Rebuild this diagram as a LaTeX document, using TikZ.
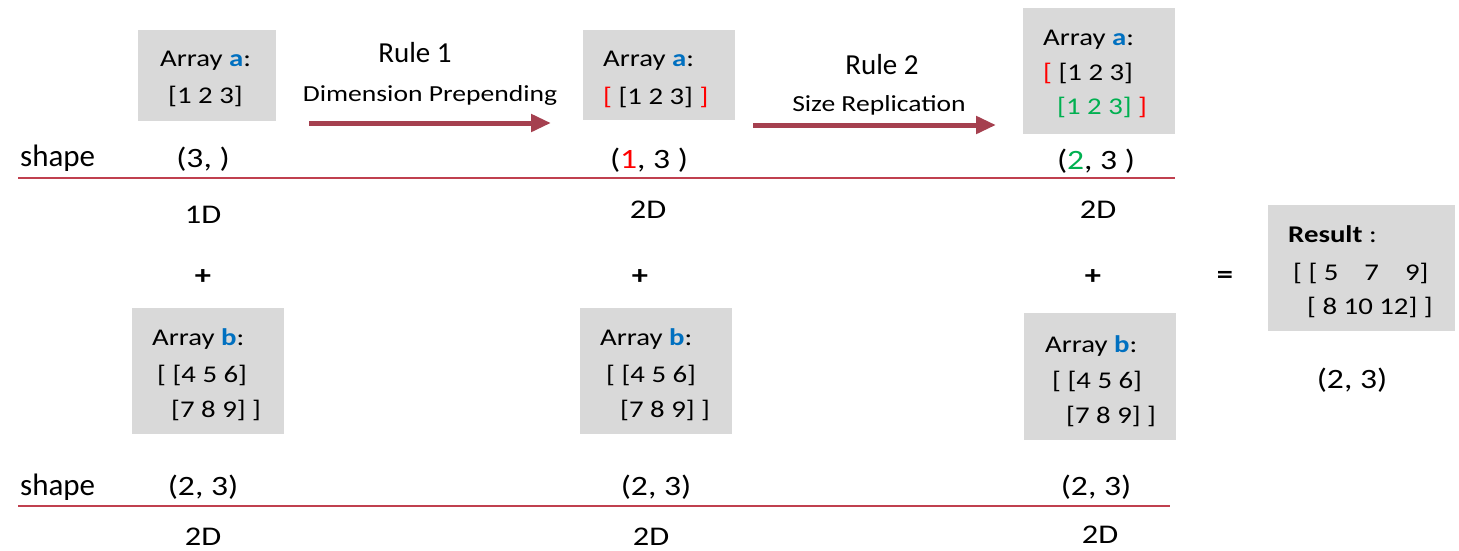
\documentclass[tikz,border=0pt]{standalone}
\usepackage{fontspec}
\setmainfont{Carlito}
\newfontfamily\widefont{Carlito}[FakeStretch=1.2]
\usetikzlibrary{arrows.meta}
\definecolor{boxgray}{HTML}{D9D9D9}
\definecolor{arrowred}{HTML}{A5404F}
\definecolor{linered}{HTML}{C0404F}
\definecolor{keyblue}{HTML}{0070C0}
\definecolor{addred}{HTML}{FF0000}
\definecolor{repgreen}{HTML}{00B050}
\newcommand{\ka}{\textcolor{keyblue}{\textbf{a}}}
\newcommand{\kb}{\textcolor{keyblue}{\textbf{b}}}
\newcommand{\rd}[1]{\textcolor{addred}{#1}}
\newcommand{\gr}[1]{\textcolor{repgreen}{#1}}
\begin{document}
\begin{tikzpicture}[x=1pt,y=-1pt,
  arraybox/.style={fill=boxgray, draw=none, inner sep=0pt, anchor=north west},
  txt/.style={font=\widefont\fontsize{24}{28}\selectfont, inner sep=0pt, anchor=base west},
  ctxt/.style={txt, anchor=base},
  dimtxt/.style={font=\widefont\fontsize{27}{32}\selectfont, inner sep=0pt, anchor=base},
  shptxt/.style={font=\widefont\fontsize{28}{32}\selectfont, inner sep=0pt, anchor=base},
  bigtxt/.style={font=\fontsize{29}{34}\selectfont, inner sep=0pt, anchor=base},
  shapetxt/.style={font=\fontsize{31}{36}\selectfont, inner sep=0pt, anchor=base west},
  optxt/.style={font=\widefont\bfseries\fontsize{27}{32}\selectfont, inner sep=0pt, anchor=center},
  flow/.style={draw=arrowred, line width=5pt, -{Triangle[length=20pt,width=17pt]}},
  sepline/.style={draw=linered, line width=1.3pt}]
\useasboundingbox (0,0) rectangle (1459,550);

% gray array boxes
\node[arraybox, minimum width=138pt, minimum height=91pt] (a1) at (138,30) {};
\node[arraybox, minimum width=152pt, minimum height=90pt] (a2) at (583,30) {};
\node[arraybox, minimum width=152pt, minimum height=126pt] (a3) at (1023,8) {};
\node[arraybox, minimum width=152pt, minimum height=126pt] (b1) at (132,308) {};
\node[arraybox, minimum width=152pt, minimum height=126pt] (b2) at (580,308) {};
\node[arraybox, minimum width=152pt, minimum height=127pt] (b3) at (1024,313) {};
\node[arraybox, minimum width=187pt, minimum height=126pt] (res) at (1268,205) {};

% array a, three stages
\node[txt] (a1t) at (160,66) {Array \ka:};
\node[txt] (a1v) at (168,103) {[1 2 3]};
\node[txt] (a2t) at (603,66) {Array \ka:};
\node[txt] (a2v) at (603,104) {\rd{[} [1 2 3] \rd{]}};
\node[txt] (a3t) at (1043,45) {Array \ka:};
\node[txt] (a3v) at (1043,80) {\rd{[} [1 2 3]};
\node[txt] (a3w) at (1057,114) {\gr{[1 2 3]} \rd{]}};

% array b, three stages
\node[txt] (b1t) at (152,345) {Array \kb:};
\node[txt] (b1v) at (157,382) {[ [4 5 6]};
\node[txt] (b1w) at (171,417) {[7 8 9] ]};
\node[txt] (b2t) at (600,345) {Array \kb:};
\node[txt] (b2v) at (606,382) {[ [4 5 6]};
\node[txt] (b2w) at (620,417) {[7 8 9] ]};
\node[txt] (b3t) at (1045,352) {Array \kb:};
\node[txt] (b3v) at (1052,388) {[ [4 5 6]};
\node[txt] (b3w) at (1066,423) {[7 8 9] ]};

% result
\node[txt] (rt) at (1288,242) {\textbf{Result} :};
\node[txt] (rv) at (1293,280) {[ [ 5\hspace{26pt}7\hspace{26pt}9]};
\node[txt] (rw) at (1307,314) {[ 8 10 12] ]};
\node[shptxt] (rs) at (1352,388) {(2, 3)};

% broadcasting rules
\node[bigtxt] (r1) at (415,62) {Rule 1};
\node[ctxt, font=\widefont\fontsize{23}{28}\selectfont] (r1d) at (430,101) {Dimension Prepending};
\node[bigtxt] (r2) at (882,74) {Rule 2};
\node[ctxt, font=\widefont\fontsize{23}{28}\selectfont] (r2d) at (879,111) {Size Replication};
\coordinate (r1s) at (309,123);
\coordinate (r1e) at (551,123);
\coordinate (r2s) at (753,125);
\coordinate (r2e) at (996,125);
\draw[flow] (r1s) -- (r1e);
\draw[flow] (r2s) -- (r2e);

% shapes of a
\node[shapetxt] (sa) at (20,166) {shape};
\node[shptxt] (sa1) at (203,167) {(3, )};
\node[shptxt] (sa2) at (649,168) {(\rd{1}, 3 )};
\node[shptxt] (sa3) at (1096,169) {(\gr{2}, 3 )};
\coordinate (la1) at (18,178);
\coordinate (la2) at (1175,178);
\draw[sepline] (la1) -- (la2);
\node[dimtxt] (da1) at (203,223) {1D};
\node[dimtxt] (da2) at (648,218) {2D};
\node[dimtxt] (da3) at (1098,218) {2D};

% operators
\node[optxt] (p1) at (203,277) {+};
\node[optxt] (p2) at (640,277) {+};
\node[optxt] (p3) at (1093,277) {+};
\node[optxt] (eq) at (1225,277) {=};

% shapes of b
\node[shapetxt] (sb) at (20,495) {shape};
\node[shptxt] (sb1) at (203,495) {(2, 3)};
\node[shptxt] (sb2) at (656,495) {(2, 3)};
\node[shptxt] (sb3) at (1096,495) {(2, 3)};
\coordinate (lb1) at (18,506);
\coordinate (lb2) at (1170,506);
\draw[sepline] (lb1) -- (lb2);
\node[dimtxt] (db1) at (203,545) {2D};
\node[dimtxt] (db2) at (651,545) {2D};
\node[dimtxt] (db3) at (1100,543) {2D};
\end{tikzpicture}
\end{document}
